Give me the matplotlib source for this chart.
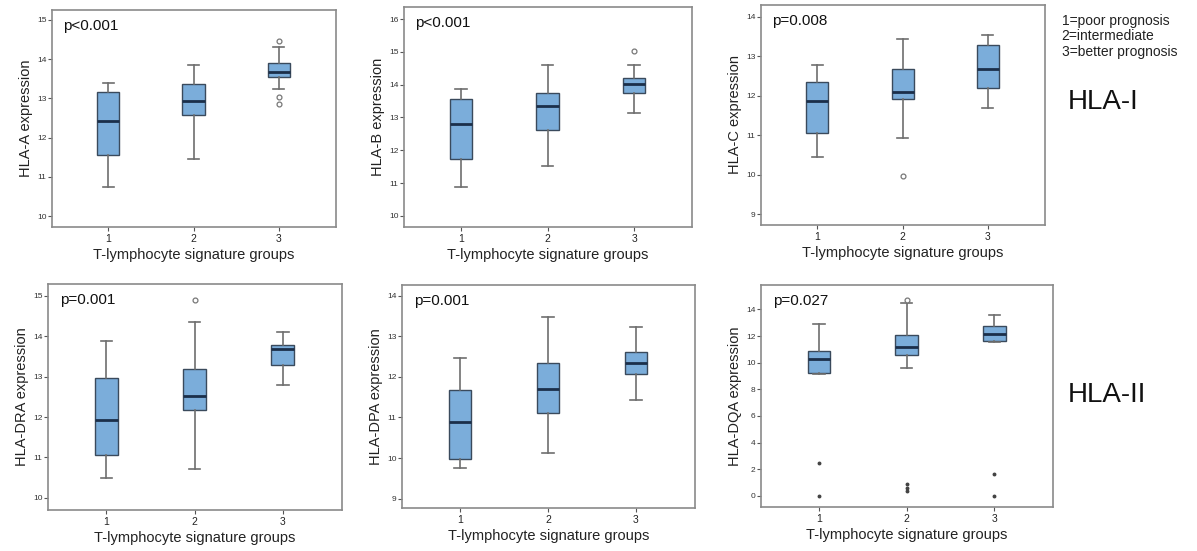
import matplotlib

matplotlib.use("Agg")

import matplotlib.pyplot as plt

plt.rcParams["font.family"] = ["Liberation Sans", "DejaVu Sans"]

GROUPS = [1, 2, 3]
X_LABEL = "T-lymphocyte signature groups"

# five-number summaries per group: whisker low, Q1, median, Q3, whisker high
HLA_A_STATS = [[10.74, 11.56, 12.41, 13.15, 13.39], [11.45, 12.58, 12.93, 13.37, 13.85], [13.23, 13.55, 13.68, 13.89, 14.32]]
HLA_A_OUTLIERS = [[], [], [14.45, 13.04, 12.86]]
HLA_B_STATS = [[10.88, 11.74, 12.81, 13.55, 13.88], [11.51, 12.62, 13.36, 13.74, 14.6], [13.15, 13.74, 14.03, 14.19, 14.6]]
HLA_B_OUTLIERS = [[], [], [15.04]]
HLA_C_STATS = [[10.46, 11.05, 11.87, 12.35, 12.78], [10.94, 11.93, 12.1, 12.67, 13.44], [11.68, 12.21, 12.67, 13.28, 13.55]]
HLA_C_OUTLIERS = [[], [9.97], []]
HLA_DRA_STATS = [[10.49, 11.05, 11.93, 12.97, 13.89], [10.72, 12.18, 12.51, 13.19, 14.35], [12.78, 13.28, 13.67, 13.78, 14.1]]
HLA_DRA_OUTLIERS = [[], [14.9], []]
HLA_DPA_STATS = [[9.75, 9.97, 10.88, 11.67, 12.47], [10.12, 11.12, 11.7, 12.33, 13.48], [11.43, 12.07, 12.35, 12.61, 13.22]]
HLA_DPA_OUTLIERS = [[], [], []]
HLA_DQA_STATS = [[9.15, 9.2, 10.3, 10.9, 12.92], [9.6, 10.55, 11.17, 12.08, 14.45], [11.52, 11.64, 12.18, 12.78, 13.6]]
HLA_DQA_OUTLIERS = [[], [14.7], []]
HLA_DQA_EXTREMES = [[2.5, 0.0], [0.9, 0.6, 0.38], [1.68, 0.0]]

BOX_FILL = "#7badda"
BOX_EDGE = "#3a4a5c"
WHISKER = "#6e6e6e"
MEDIAN = "#1b2f4a"
FRAME = "#8a8a8a"

PANELS = [
    # (stats, outliers, extremes, ylabel, pval, yticks, ylim, rect)
    (HLA_A_STATS, HLA_A_OUTLIERS, None, "HLA-A expression", "p<0.001",
     range(10, 16), (9.72, 15.25), [0.0434, 0.588, 0.2373, 0.3938]),
    (HLA_B_STATS, HLA_B_OUTLIERS, None, "HLA-B expression", "p<0.001",
     range(10, 17), (9.66, 16.37), [0.3375, 0.588, 0.2406, 0.3993]),
    (HLA_C_STATS, HLA_C_OUTLIERS, None, "HLA-C expression", "p=0.008",
     range(9, 15), (8.73, 14.3), [0.6358, 0.5917, 0.2373, 0.3993]),
    (HLA_DRA_STATS, HLA_DRA_OUTLIERS, None, "HLA-DRA expression", "p=0.001",
     range(10, 16), (9.7, 15.29), [0.0401, 0.0744, 0.2456, 0.4102]),
    (HLA_DPA_STATS, HLA_DPA_OUTLIERS, None, "HLA-DPA expression", "p=0.001",
     range(9, 15), (8.77, 14.26), [0.3358, 0.078, 0.2448, 0.4047]),
    (HLA_DQA_STATS, HLA_DQA_OUTLIERS, HLA_DQA_EXTREMES, "HLA-DQA expression", "p=0.027",
     range(0, 15, 2), (-0.83, 15.83), [0.6358, 0.0799, 0.2439, 0.4029]),
]


def draw_panel(fig, stats, outliers, extremes, ylabel, pval, yticks, ylim, rect):
    ax = fig.add_axes(rect)
    box_stats = []
    for (low, q1, med, q3, high), fl in zip(stats, outliers):
        box_stats.append({"whislo": low, "q1": q1, "med": med, "q3": q3, "whishi": high, "fliers": fl})
    ax.bxp(
        box_stats,
        positions=GROUPS,
        widths=0.26,
        patch_artist=True,
        boxprops={"facecolor": BOX_FILL, "edgecolor": BOX_EDGE, "linewidth": 1.0},
        medianprops={"color": MEDIAN, "linewidth": 2.0},
        whiskerprops={"color": WHISKER, "linewidth": 1.2},
        capprops={"color": WHISKER, "linewidth": 1.2},
        capwidths=0.13,
        flierprops={"marker": "o", "markersize": 3.5, "markerfacecolor": "white",
                    "markeredgecolor": "#777777", "markeredgewidth": 0.9},
    )
    if extremes is not None:
        # extreme values drawn as small solid dots
        for pos, vals in zip(GROUPS, extremes):
            ax.plot([pos] * len(vals), vals, linestyle="None", marker="o", markersize=1.8,
                    color="#444444")

    ax.set_xlim(0.34, 3.67)
    ax.set_ylim(*ylim)
    ax.set_yticks(list(yticks))
    ax.set_xticks(GROUPS)
    ax.set_xticklabels([str(g) for g in GROUPS])
    ax.tick_params(axis="y", labelsize=6, length=3, width=0.8, color="#555555", labelcolor="#333333", pad=1)
    ax.tick_params(axis="x", labelsize=7.5, length=3, width=0.8, color="#555555", labelcolor="#222222", pad=2)
    for spine in ax.spines.values():
        spine.set_color(FRAME)
        spine.set_linewidth(1.2)
    ax.set_ylabel(ylabel, fontsize=10.5, color="#222222", labelpad=3)
    ax.set_xlabel(X_LABEL, fontsize=10.5, color="#222222", labelpad=3)
    ax.text(0.04, 0.96, pval, transform=ax.transAxes, ha="left", va="top", fontsize=11, color="#111111")
    return ax


def main() -> None:
    fig = plt.figure(figsize=(11.97, 5.51), dpi=100)
    for panel in PANELS:
        draw_panel(fig, *panel)

    fig.text(0.887, 0.975, "1=poor prognosis\n2=intermediate\n3=better prognosis",
             ha="left", va="top", fontsize=10, linespacing=1.15, color="#222222")
    fig.text(0.892, 0.815, "HLA-I", ha="left", va="center", fontsize=20, color="#111111")
    fig.text(0.892, 0.283, "HLA-II", ha="left", va="center", fontsize=20, color="#111111")

    fig.savefig("out.png", dpi=100)
    plt.close(fig)


if __name__ == "__main__":
    main()
